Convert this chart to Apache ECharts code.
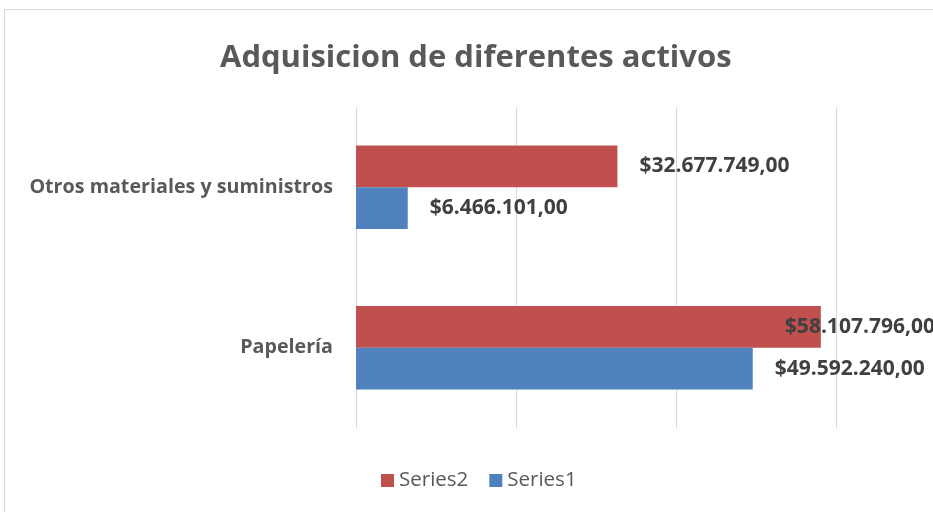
<!DOCTYPE html>
<html>
<head>
<meta charset="utf-8">
<script src="https://cdn.jsdelivr.net/npm/echarts@6/dist/echarts.min.js"></script>
<style>
  html, body { margin: 0; padding: 0; background: #fff; }
  #chart { width: 933px; height: 512px; }
</style>
</head>
<body>
<div id="chart"></div>
<script>
var categorias = ['Papelería', 'Otros materiales y suministros'];
var serie1 = [49592240, 6466101];
var serie2 = [58107796, 32677749];
var nombres = ['Series1', 'Series2'];

var fuente = 'Open Sans';

// formato tipo $32.677.749,00
function pesos(v) {
  var s = Math.round(v).toString().replace(/\B(?=(\d{3})+(?!\d))/g, '.');
  return '$' + s + ',00';
}

var etiqueta = {
  show: true,
  position: 'right',
  distance: 22,
  fontFamily: fuente,
  fontWeight: 'bold',
  fontSize: 21,
  color: '#404040',
  formatter: function (p) { return pesos(p.value); }
};

const getOption = () => {
  return {
    animation: false,
    title: {
      text: 'Adquisicion de diferentes activos',
      left: 215,
      top: 38,
      textStyle: { fontFamily: fuente, fontWeight: 'bold', fontSize: 31, color: '#595959' }
    },
    legend: {
      data: ['Series2', 'Series1'],
      bottom: 16,
      left: 376,
      itemWidth: 13,
      itemHeight: 13,
      itemGap: 21,
      icon: 'rect',
      textStyle: { fontFamily: fuente, fontSize: 20.5, color: '#595959' }
    },
    grid: { left: 356, right: 97, top: 107, bottom: 84, containLabel: false },
    xAxis: {
      type: 'value',
      min: 0,
      max: 60000000,
      interval: 20000000,
      axisLabel: { show: false },
      axisLine: { show: false },
      axisTick: { show: false },
      splitLine: { lineStyle: { color: '#d9d9d9', width: 1 } }
    },
    yAxis: {
      type: 'category',
      data: categorias,
      axisLine: { show: false },
      axisTick: { show: false },
      axisLabel: { margin: 23, fontFamily: fuente, fontWeight: 'bold', fontSize: 19.7, color: '#595959' }
    },
    series: [
      {
        name: nombres[1],
        type: 'bar',
        data: serie2.map(function (v, i) {
          // la etiqueta de Papelería queda encima del final de la barra
          return i === 0 ? { value: v, label: { offset: [-58, 0] } } : v;
        }),
        barGap: '0%',
        barCategoryGap: '48%',
        itemStyle: { color: '#c0504d' },
        label: etiqueta
      },
      {
        name: nombres[0],
        type: 'bar',
        data: serie1,
        barGap: '0%',
        barCategoryGap: '48%',
        itemStyle: { color: '#4f81bd' },
        label: etiqueta
      }
    ],
    graphic: [{
      type: 'rect',
      shape: { x: 4.5, y: 9.5, width: 1000, height: 600 },
      style: { fill: 'none', stroke: '#d9d9d9', lineWidth: 1 },
      silent: true
    }]
  };
};

const chart = echarts.init(document.getElementById('chart'));
chart.setOption(getOption());
</script>
</body>
</html>
